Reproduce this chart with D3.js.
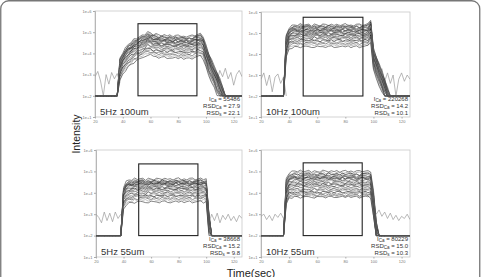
<!DOCTYPE html>
<html>
<head>
<meta charset="utf-8">
<script src="https://cdn.jsdelivr.net/npm/d3@7"></script>
<style>
  body { margin: 0; background: #fff; }
  svg { display: block; font-family: "Liberation Sans", Arial, sans-serif; }
</style>
</head>
<body>
<svg id="chart" width="481" height="277"></svg>
<script>
// time grid (sec)
const times = [20,22,24,26,28,30,32,34,36,38,40,42,44,46,48,50,52,54,56,58,60,62,64,66,68,70,72,74,76,78,80,82,84,86,88,90,92,94,96,98,100,102,104,106,108,110,112,114,116,118,120,122,124,126]

const panelNames = ['5Hz 100um', '10Hz 100um', '5Hz 55um', '10Hz 55um']
const statI = ['55486', '220268', '38668', '80229']
const statRsdCa = ['27.9', '14.2', '15.2', '15.0']
const statRsdS = ['22.1', '10.1', '9.8', '10.3']

// integration window (sec, log10 top)
const windowStart = [51, 50, 51, 50]
const windowEnd = [93.5, 92.5, 94, 92]
const windowTop = [5.4, 5.75, 5.35, 5.4]

const yTicks = [1e1, 1e2, 1e3, 1e4, 1e5, 1e6]
const yTickLabels = ['1e+1', '1e+2', '1e+3', '1e+4', '1e+5', '1e+6']
const xTicks = [20, 40, 60, 80, 100, 120]

// plateau level of every trace (log10 intensity)
const levels5Hz100 = [4.85,4.8,4.76,4.73,4.7,4.67,4.64,4.62,4.6,4.57,4.54,4.51,4.48,4.45,4.41,4.37,4.33,4.28,4.22,4.16,4.1,4.03,3.96,3.88,3.8]
const levels10Hz100 = [5.38,5.34,5.3,5.27,5.24,5.21,5.18,5.15,5.12,5.09,5.06,5.03,5.0,4.96,4.92,4.88,4.84,4.8,4.75,4.7,4.64,4.57,4.5,4.42,4.34]
const levels5Hz55 = [4.64,4.58,4.54,4.51,4.49,4.47,4.45,4.43,4.41,4.38,4.35,4.31,4.27,4.23,4.19,4.14,4.09,4.04,3.98,3.92,3.86,3.8,3.73,3.65,3.57]
const levels10Hz55 = [5.0,4.93,4.87,4.82,4.78,4.75,4.72,4.7,4.67,4.63,4.58,4.53,4.48,4.43,4.38,4.33,4.27,4.21,4.15,4.09,4.03,3.97,3.9,3.85,3.8]

// ablation profile relative to plateau (log10), -9 = below floor
const profile5Hz100 = [-9,-9,-9,-9,-9,-9,-9,-9,-9,-1.1,-0.8,-0.6,-0.45,-0.32,-0.22,-0.14,-0.08,-0.02,0.06,0.15,0.12,0.05,0.04,0.01,0,0,-0.02,0,-0.03,-0.02,-0.04,-0.03,-0.05,-0.04,-0.05,-0.03,0,0.04,0.06,-0.05,-0.45,-0.85,-1.15,-1.45,-1.75,-2.05,-2.4,-9,-9,-9,-9,-9,-9,-9]
const profile10Hz100 = [-9,-9,-9,-9,-9,-9,-9,-9,-9,-0.5,-0.12,-0.04,-0.02,0,0.01,0,0.01,0,-0.01,0.02,0,-0.01,0,0.01,0,0,-0.01,0.01,0,0,0.01,0,-0.01,0,0.01,0,0,0.01,0.03,0.25,-1.1,-1.5,-1.85,-2.2,-2.6,-3.0,-9,-9,-9,-9,-9,-9,-9,-9]
const profile5Hz55 = [-9,-9,-9,-9,-9,-9,-9,-9,-9,-9,-0.35,-0.12,-0.06,-0.03,-0.01,0,0.01,0,-0.01,0.01,0,0,-0.01,0,0.01,0,0,-0.01,0,0.01,0,-0.01,0,0,0.01,0,-0.01,0,0.01,0,0,-1.6,-9,-9,-9,-9,-9,-9,-9,-9,-9,-9,-9,-9]
const profile10Hz55 = [-9,-9,-9,-9,-9,-9,-9,-9,-9,-0.35,-0.05,-0.02,0,0.01,0,-0.01,0,0.01,0,0,-0.01,0,0.01,0,0,-0.01,0,0.01,0,0,-0.01,0,0.01,0,0,-0.01,0,0.01,0,0,-0.9,-2.3,-9,-9,-9,-9,-9,-9,-9,-9,-9,-9,-9,-9]

// gas blank trace outside ablation (log10), null = hidden
const background5Hz100 = [2.9,3.15,2.7,2.0,3.0,2.55,3.1,2.8,3.05,2.6,null,null,null,null,null,null,null,null,null,null,null,null,null,null,null,null,null,null,null,null,null,null,null,null,null,null,null,null,null,null,null,null,null,3.0,2.7,3.2,2.9,3.3,2.8,3.1,2.5,3.0,3.2,2.9]
const background10Hz100 = [2.8,3.1,2.5,3.0,2.2,2.9,3.05,2.6,2.9,2.0,null,null,null,null,null,null,null,null,null,null,null,null,null,null,null,null,null,null,null,null,null,null,null,null,null,null,null,null,null,null,null,3.2,2.9,3.3,2.7,3.1,2.6,3.0,2.0,2.8,3.1,2.7,3.0,2.8]
const background5Hz55 = [3.0,2.85,2.6,3.1,2.7,3.05,2.65,3.1,2.8,3.0,null,null,null,null,null,null,null,null,null,null,null,null,null,null,null,null,null,null,null,null,null,null,null,null,null,null,null,null,null,null,null,2.6,3.0,2.7,3.05,2.6,2.95,2.75,3.0,2.7,2.9,2.65,2.95,2.8]
const background10Hz55 = [2.9,3.0,2.75,2.95,2.7,3.0,2.85,3.05,2.8,null,null,null,null,null,null,null,null,null,null,null,null,null,null,null,null,null,null,null,null,null,null,null,null,null,null,null,null,null,null,null,3.3,3.0,3.2,2.9,3.1,2.8,3.05,2.75,2.95,2.7,2.9,2.8,3.0,2.75]

// shot-to-shot wiggle (log10)
const wiggles = [
    [0,0.03,-0.02,0.04,-0.03,0.02,0.05,-0.04,0.01,0.03,-0.05,0.04,0.02,-0.03,0.06,-0.02,0.01,0.04,-0.05,0.03,0,-0.04,0.05,0.02,-0.03,0.04,-0.01,0.03,-0.05,0.02,0.06,-0.03,0.01,-0.04,0.03,0.05,-0.02,0,0.04,-0.03,0.02,-0.05,0.03,0.01,-0.02,0.04,-0.03,0.02,0.05,-0.04,0.01,0.03,-0.02,0],
    [0.02,-0.04,0.05,-0.01,0.03,-0.05,0.02,0.04,-0.03,0.01,0.05,-0.02,-0.04,0.03,0,0.05,-0.03,0.02,0.04,-0.05,0.01,0.03,-0.02,0.06,-0.04,0,0.03,-0.05,0.02,0.04,-0.03,0.01,0.05,-0.02,-0.04,0.02,0.05,-0.03,0,0.04,-0.05,0.02,0.03,-0.04,0.01,0.05,-0.02,0.03,-0.05,0.02,0.04,-0.01,0.03,-0.03],
    [-0.03,0.01,0.04,-0.05,0.02,0.03,-0.02,0.05,-0.04,0.02,0.01,0.06,-0.03,-0.01,0.04,-0.05,0.03,0,0.02,0.05,-0.04,0.01,-0.03,0.04,0.02,-0.05,0.06,0,-0.02,0.03,-0.04,0.05,-0.01,0.02,0.04,-0.03,0.01,-0.05,0.03,0.02,0.05,-0.02,-0.04,0.04,0.01,-0.03,0.05,-0.01,0.02,-0.04,0.03,0.01,-0.05,0.02],
    [0.04,-0.02,0.01,0.05,-0.04,0,0.03,-0.05,0.04,-0.01,0.02,-0.04,0.05,0.01,-0.03,0.03,0.05,-0.04,0,0.02,0.06,-0.03,0.01,-0.05,0.04,0.02,-0.02,-0.04,0.05,0,0.02,0.04,-0.05,0.03,-0.01,0.01,-0.04,0.05,-0.02,0.03,0,0.04,-0.05,0.02,0.05,-0.01,-0.03,0.04,0.01,0.03,-0.05,0.02,0.04,-0.02],
    [-0.01,0.05,-0.03,0.02,0.04,-0.04,0.01,0.03,0.05,-0.05,0.03,0,-0.02,0.05,-0.04,0.02,-0.01,-0.05,0.04,0.01,0.03,0.05,-0.04,-0.02,0.05,0.01,-0.03,0.02,0.04,-0.05,0,0.03,-0.02,0.05,0.02,-0.04,0.04,0.01,-0.05,0.02,0.03,0.01,-0.02,-0.05,0.04,0.02,0.01,-0.04,0.03,0.05,-0.02,-0.03,0.01,0.04]
]

const levels = [levels5Hz100, levels10Hz100, levels5Hz55, levels10Hz55]
const profiles = [profile5Hz100, profile10Hz100, profile5Hz55, profile10Hz55]
const backgrounds = [background5Hz100, background10Hz100, background5Hz55, background10Hz55]

const traceColors = ['#333', '#888', '#111', '#666', '#444', '#999']
const floorLog = 2

const svg = d3.select('#chart')

// outer figure frame
svg.append('rect')
    .attr('x', 0.75).attr('y', 0.75)
    .attr('width', 479).attr('height', 310)
    .attr('rx', 8)
    .attr('fill', 'none')
    .attr('stroke', '#777')
    .attr('stroke-width', 1.3)

// plot boxes: left, right, top, bottom
const boxes = [
    [95, 242, 11, 117],
    [261, 410, 12, 117],
    [96, 242, 150, 257],
    [261, 410, 150, 257],
]

boxes.forEach((b, p) => {
    const x = d3.scaleLinear().domain([20, 126]).range([b[0], b[1]])
    const y = d3.scaleLog().domain([1e1, 1e6]).range([b[3], b[2]])
    const g = svg.append('g')

    g.append('rect')
        .attr('x', b[0]).attr('y', b[2])
        .attr('width', b[1] - b[0]).attr('height', b[3] - b[2])
        .attr('fill', 'none')
        .attr('stroke', '#c8c8c8')
        .attr('stroke-width', 0.8)

    const yAxis = g.append('g')
        .attr('transform', `translate(${b[0]},0)`)
        .call(d3.axisLeft(y).tickValues(yTicks).tickSize(2).tickPadding(1.5)
            .tickFormat((d, i) => yTickLabels[i]))
    yAxis.select('.domain').attr('stroke', '#aaa').attr('stroke-width', 0.8)
    yAxis.selectAll('line').attr('stroke', '#aaa')
    yAxis.selectAll('text').attr('font-size', 4).attr('fill', '#777').attr('font-family', null)

    const xAxis = g.append('g')
        .attr('transform', `translate(0,${b[3]})`)
        .call(d3.axisBottom(x).tickValues(xTicks).tickSize(1.5).tickPadding(1.5))
    xAxis.select('.domain').remove()
    xAxis.selectAll('line').attr('stroke', '#aaa')
    xAxis.selectAll('text').attr('font-size', 4).attr('fill', '#777').attr('font-family', null)

    const line = d3.line()
        .defined(d => d[1] != null)
        .x(d => x(d[0]))
        .y(d => y(Math.pow(10, Math.max(floorLog, d[1]))))

    const clipId = `clip${p}`
    g.append('clipPath').attr('id', clipId)
        .append('rect')
        .attr('x', b[0]).attr('y', b[2])
        .attr('width', b[1] - b[0]).attr('height', b[3] - b[2])
    const plot = g.append('g').attr('clip-path', `url(#${clipId})`)

    // blank signal
    plot.append('path')
        .datum(times.map((t, j) => [t, backgrounds[p][j]]))
        .attr('d', line)
        .attr('fill', 'none')
        .attr('stroke', '#999')
        .attr('stroke-width', 0.7)

    // one trace per analysed spot
    levels[p].forEach((lv, i) => {
        const w = wiggles[i % wiggles.length]
        const pts = times.map((t, j) => {
            const pr = profiles[p][j]
            const v = pr < -8 ? floorLog : lv + pr + (w[(j + i) % w.length] || 0)
            return [t, v]
        })
        plot.append('path')
            .datum(pts)
            .attr('d', line)
            .attr('fill', 'none')
            .attr('stroke', traceColors[i % traceColors.length])
            .attr('stroke-width', 0.6)
    })

    // integration window
    g.append('rect')
        .attr('x', x(windowStart[p]))
        .attr('y', y(Math.pow(10, windowTop[p])))
        .attr('width', x(windowEnd[p]) - x(windowStart[p]))
        .attr('height', y(1e2) - y(Math.pow(10, windowTop[p])))
        .attr('fill', 'none')
        .attr('stroke', '#222')
        .attr('stroke-width', 1.1)

    g.append('text')
        .attr('x', b[0] + 5)
        .attr('y', b[3] - 2.5)
        .attr('font-size', 9.5)
        .attr('fill', '#333')
        .text(panelNames[p])

    // stats block
    const stats = [['I', 'Ca', statI[p]], ['RSD', 'Ca', statRsdCa[p]], ['RSD', 's', statRsdS[p]]]
    stats.forEach((s, k) => {
        const t = g.append('text')
            .attr('x', b[1] - 2)
            .attr('y', b[3] - 16 + k * 7)
            .attr('text-anchor', 'end')
            .attr('font-size', 6)
            .attr('fill', '#333')
        t.append('tspan').text(s[0])
        t.append('tspan').attr('font-size', 4.5).attr('dy', 1.2).text(s[1])
        t.append('tspan').attr('dy', -1.2).text(' = ' + s[2])
    })
})

svg.append('text')
    .attr('transform', 'translate(79.5,134) rotate(-90)')
    .attr('text-anchor', 'middle')
    .attr('font-size', 10.5)
    .attr('fill', '#222')
    .text('Intensity')

svg.append('text')
    .attr('x', 251)
    .attr('y', 276.5)
    .attr('text-anchor', 'middle')
    .attr('font-size', 11)
    .attr('fill', '#222')
    .text('Time(sec)')
</script>
</body>
</html>
